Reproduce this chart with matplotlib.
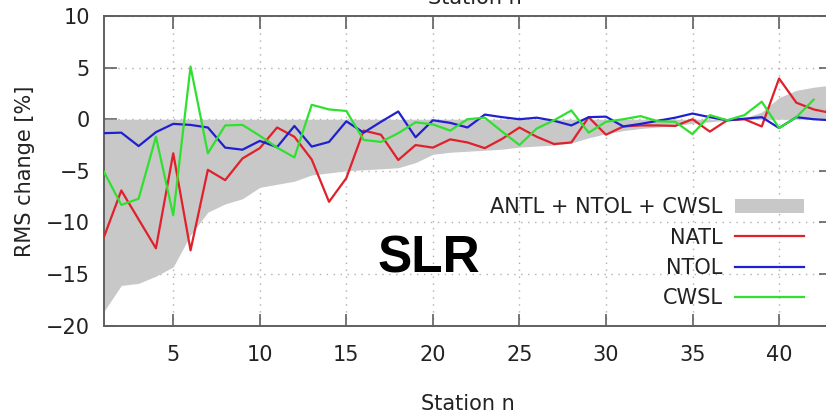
import numpy as np
import matplotlib
matplotlib.use("Agg")
import matplotlib.pyplot as plt
from matplotlib.patches import Rectangle

# station numbers and RMS changes [%]
stations = np.arange(1, 44)

natl = [-11.4, -6.9, -9.7, -12.5, -3.3, -12.7, -4.9, -5.9, -3.8, -2.8,
        -0.8, -1.7, -3.9, -8.0, -5.7, -1.1, -1.5, -3.95, -2.5, -2.75,
        -1.95, -2.25, -2.8, -1.9, -0.8, -1.7, -2.4, -2.25, 0.2, -1.5,
        -0.7, -0.6, -0.6, -0.65, 0.0, -1.2, -0.1, 0.0, -0.7, 3.95,
        1.6, 0.95, 0.6]

ntol = [-1.35, -1.3, -2.6, -1.25, -0.45, -0.55, -0.8, -2.75, -2.95, -2.1,
        -2.7, -0.65, -2.65, -2.2, -0.2, -1.3, -0.25, 0.75, -1.75, -0.1,
        -0.35, -0.8, 0.45, 0.2, 0.0, 0.15, -0.15, -0.6, 0.2, 0.25,
        -0.7, -0.45, -0.15, 0.15, 0.55, 0.2, -0.1, 0.05, 0.2, -0.85,
        0.2, 0.0, -0.1]

cwsl = [-5.1, -8.3, -7.7, -1.7, -9.3, 5.1, -3.3, -0.6, -0.55, -1.6,
        -2.75, -3.7, 1.4, 0.95, 0.8, -2.0, -2.2, -1.35, -0.3, -0.5,
        -1.1, 0.0, 0.15, -1.2, -2.5, -0.9, -0.1, 0.85, -1.3, -0.25,
        0.0, 0.3, -0.2, -0.25, -1.45, 0.4, -0.1, 0.4, 1.7, -0.85,
        0.2, 1.9, np.nan]

total = [-18.6, -16.1, -15.9, -15.2, -14.3, -11.2, -9.0, -8.2, -7.7, -6.6,
         -6.3, -6.0, -5.4, -5.2, -5.0, -4.9, -4.8, -4.7, -4.2, -3.4,
         -3.2, -3.1, -3.0, -2.9, -2.7, -2.6, -2.5, -2.3, -1.8, -1.4,
         -1.1, -0.9, -0.75, -0.6, -0.4, -0.25, -0.1, 0.1, 0.7, 2.1,
         2.8, 3.1, 3.3]

plt.rcParams['font.family'] = ['DejaVu Sans']
edge = '#606060'
txt = '#222222'

fig = plt.figure(figsize=(8.26, 4.16), dpi=100)
ax = fig.add_axes([104/826, 90.3/416, 727/826, 309.7/416])

ax.fill_between(stations, 0, total, color='#c8c8c8', lw=0, zorder=1,
                label='ANTL + NTOL + CWSL')
ax.plot(stations, natl, color='#e0202a', lw=1.6, zorder=3, label='NATL')
ax.plot(stations, ntol, color='#2020d0', lw=1.6, zorder=3, label='NTOL')
ax.plot(stations, cwsl, color='#30e030', lw=1.6, zorder=3, label='CWSL')

ax.set_xlim(1, 43)
ax.set_ylim(-20, 10)
ax.set_xticks(range(5, 41, 5))
ax.set_yticks(range(-20, 11, 5))
ax.grid(True, ls=(0, (1, 4)), color='#b0b0b0', lw=1.0, zorder=0)
ax.set_axisbelow(True)

ax.tick_params(direction='in', length=9, width=1.2, color=edge,
               top=True, right=True, labelsize=15, labelcolor=txt)
ax.tick_params(axis='y', pad=10)
ax.tick_params(axis='x', pad=14)
for s in ax.spines.values():
    s.set_color(edge)
    s.set_linewidth(1.4)

ax.set_xlabel('Station n', fontsize=15, color=txt, labelpad=21)
ax.set_ylabel('RMS change [%]', fontsize=15, color=txt, labelpad=8)

# white key box (gnuplot style opaque key)
ax.add_patch(Rectangle(((478 - 104)/727, (325.7 - 318)/309.7),
                       (831 - 478)/727, (318 - 193)/309.7,
                       transform=ax.transAxes, facecolor='white',
                       edgecolor='none', zorder=0.5))

leg = ax.legend(loc='upper right', bbox_to_anchor=(808/826, 1 - 193/416),
                bbox_transform=fig.transFigure, frameon=False,
                markerfirst=False, fontsize=15, handlelength=3.3,
                handletextpad=0.6, labelspacing=0.5, borderpad=0.2,
                borderaxespad=0)
for t in leg.get_texts():
    t.set_color(txt)

ax.text(0.447, 0.215, 'SLR', transform=ax.transAxes, ha='center',
        va='center', fontsize=37, fontweight='bold',
        family='Liberation Sans', zorder=4)

# label of the panel above, cut by the top edge as in the original figure
fig.text(475/826, 1 - 4/416, 'Station n', ha='center', va='baseline',
         fontsize=15, color=txt)

fig.savefig('out.png', dpi=100)
